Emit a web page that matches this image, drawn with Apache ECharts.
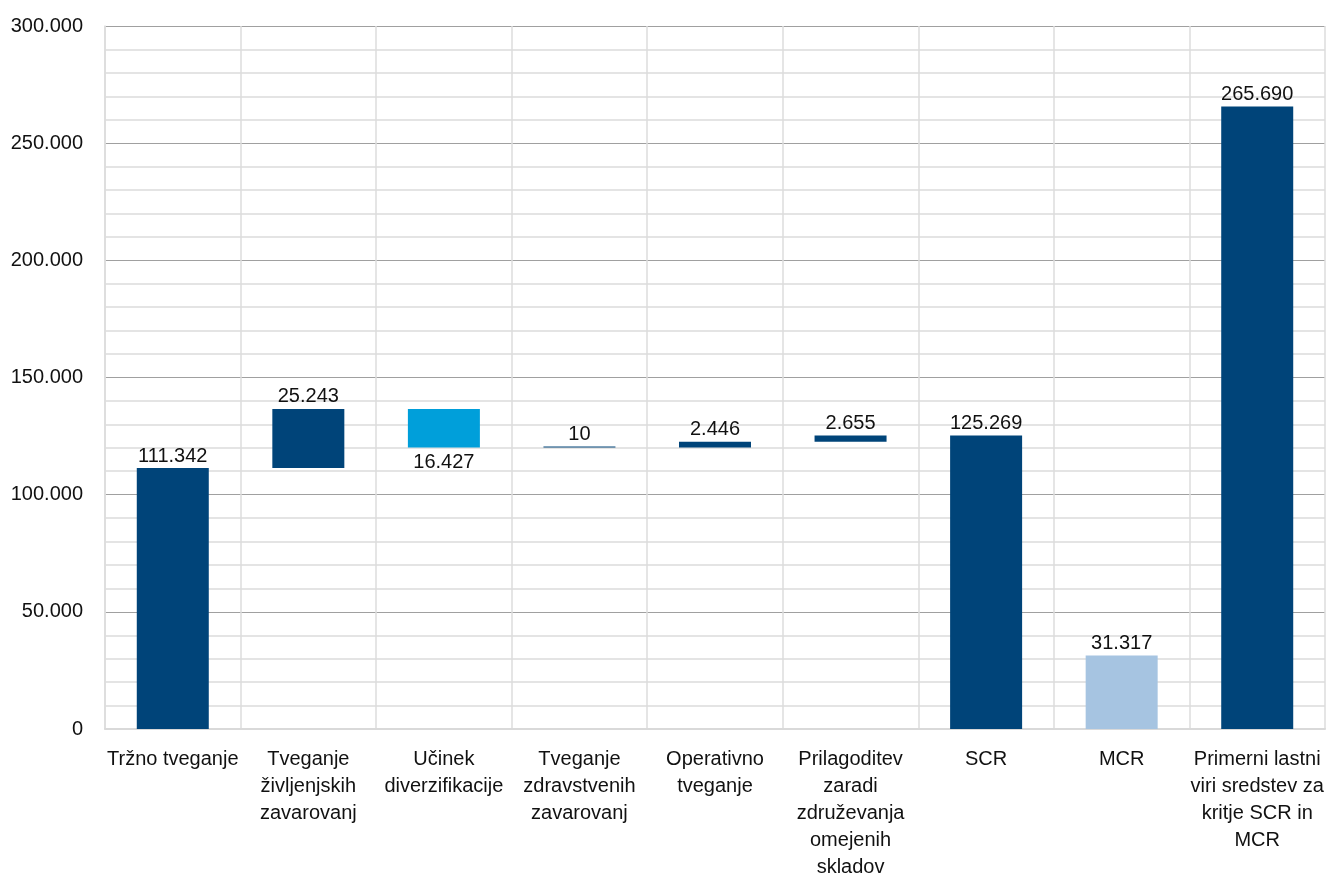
<!DOCTYPE html>
<html>
<head>
<meta charset="utf-8">
<script src="https://cdn.jsdelivr.net/npm/echarts@6/dist/echarts.min.js"></script>
<style>
html,body{margin:0;padding:0;background:#fff;overflow:hidden;}
#c{position:absolute;left:0;top:0;width:1327px;height:877px;}
</style>
</head>
<body>
<div id="c"></div>
<script>
const categories = [
  "Tržno tveganje",
  "Tveganje\nživljenjskih\nzavarovanj",
  "Učinek\ndiverzifikacije",
  "Tveganje\nzdravstvenih\nzavarovanj",
  "Operativno\ntveganje",
  "Prilagoditev\nzaradi\nzdruževanja\nomejenih\nskladov",
  "SCR",
  "MCR",
  "Primerni lastni\nviri sredstev za\nkritje SCR in\nMCR"
];
const values = [111342, 25243, -16427, 10, 2446, 2655, 125269, 31317, 265690];
const kinds = ["total", "inc", "dec", "inc", "inc", "inc", "total", "total", "total"];
const yTicks = [0, 50000, 100000, 150000, 200000, 250000, 300000];

const colorTotal = "#004479";
const colorDec = "#009fda";
const colorMcr = "#a6c4e1";

function fmt(v) {
  return String(Math.round(Math.abs(v))).replace(/\B(?=(\d{3})+(?!\d))/g, ".");
}

let running = 0;
const base = [], shown = [];
values.forEach((v, i) => {
  const k = kinds[i];
  if (k === "total") {
    base.push(0);
    running = v;
    let color = colorTotal;
    if (categories[i] === "MCR") color = colorMcr;
    shown.push({ value: v, itemStyle: { color }, label: { position: "top", distance: 2 } });
  } else if (k === "inc") {
    base.push(running);
    running += v;
    shown.push({ value: v, itemStyle: { color: colorTotal }, label: { position: "top", distance: 2 } });
  } else {
    running += v;
    base.push(running);
    shown.push({ value: Math.abs(v), itemStyle: { color: colorDec }, label: { position: "bottom", distance: 5 } });
  }
});

const el = document.getElementById("c");
const chart = echarts.init(el);
const font = "'Liberation Sans', Arial, sans-serif";
chart.setOption({
  animation: false,
  grid: { left: 105, right: 2, top: 26, bottom: 148, containLabel: false, outerBoundsMode: "none" },
  xAxis: {
    type: "category",
    data: categories,
    boundaryGap: true,
    axisLine: { show: true, lineStyle: { color: "#d9d9d9", width: 2 } },
    axisTick: { show: false },
    axisLabel: {
      interval: 0,
      color: "#111",
      fontFamily: font,
      fontSize: 20,
      lineHeight: 27,
      margin: 17,
      verticalAlign: "top"
    },
    splitLine: { show: true, interval: 0, lineStyle: { color: "#dcdcdc", width: 1.5 } }
  },
  yAxis: {
    type: "value",
    min: 0,
    max: 300000,
    interval: 50000,
    axisLine: { show: true, lineStyle: { color: "#dcdcdc", width: 1.5 } },
    axisTick: { show: false },
    axisLabel: {
      color: "#111",
      fontFamily: font,
      fontSize: 20,
      margin: 22,
      formatter: v => (yTicks.includes(v) ? fmt(v) : "")
    },
    splitLine: { show: true, lineStyle: { color: "#a0a0a0", width: 1.2 } },
    minorTick: { show: false, splitNumber: 5 },
    minorSplitLine: { show: true, lineStyle: { color: "#dcdcdc", width: 1.5 } }
  },
  series: [
    {
      type: "bar",
      stack: "w",
      data: base,
      barWidth: 72,
      itemStyle: { color: "transparent" },
      emphasis: { disabled: true },
      silent: true
    },
    {
      type: "bar",
      stack: "w",
      data: shown,
      barWidth: 72,
      barMinHeight: 1,
      label: {
        show: true,
        color: "#111",
        fontFamily: font,
        fontSize: 20,
        formatter: p => fmt(p.value)
      }
    }
  ]
});
</script>
</body>
</html>
